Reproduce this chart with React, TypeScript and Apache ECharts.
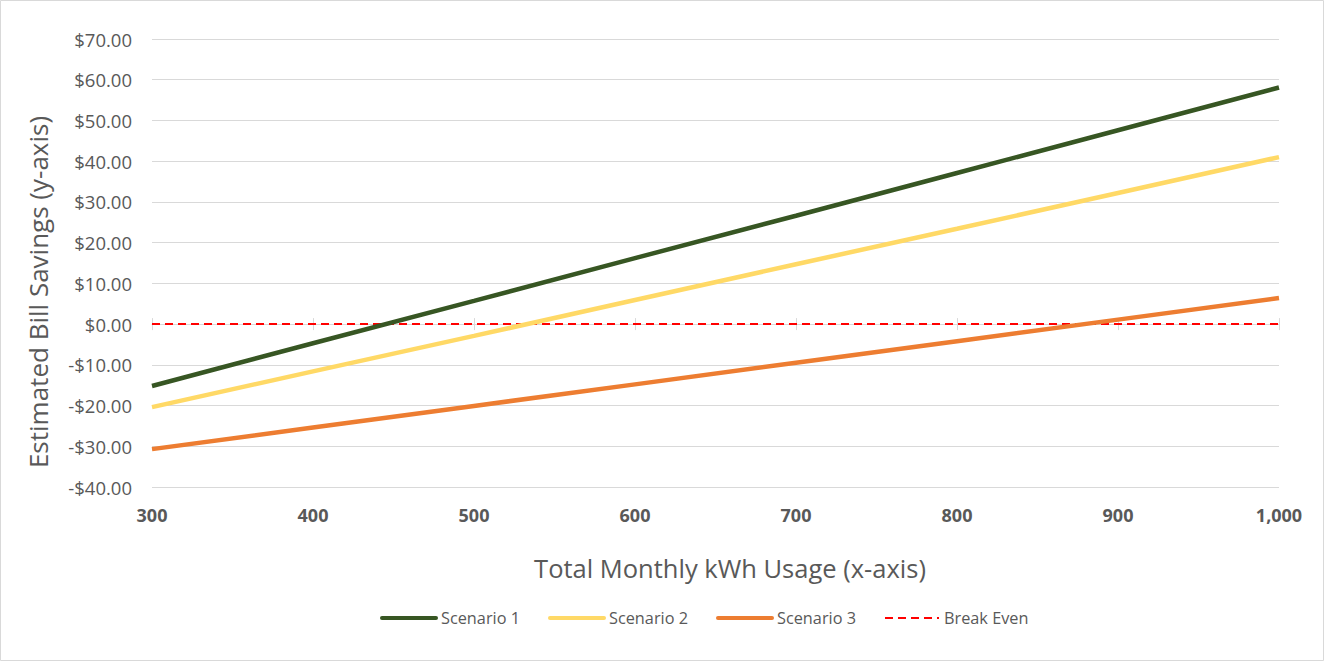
import React, { useEffect, useRef } from "react";
import * as echarts from "echarts";

const kwh = [300, 400, 500, 600, 700, 800, 900, 1000];
const scenario1 = [-15.2, -4.7, 5.7, 16.2, 26.6, 37.1, 47.6, 58.1];
const scenario2 = [-20.4, -11.6, -2.9, 5.9, 14.7, 23.4, 32.2, 41.0];
const scenario3 = [-30.7, -25.4, -20.1, -14.8, -9.5, -4.2, 1.1, 6.4];
const breakEven = [0, 0, 0, 0, 0, 0, 0, 0];
const seriesNames = ["Scenario 1", "Scenario 2", "Scenario 3", "Break Even"];
const xTitle = "Total Monthly kWh Usage (x-axis)";
const yTitle = "Estimated Bill Savings (y-axis)";

const FONT = "Open Sans";
const GREY = "#595959";

export default function App() {
  const ref = useRef<HTMLDivElement>(null);
  useEffect(() => {
    document.body.style.margin = "0";
    const chart = echarts.init(ref.current!, null, { renderer: "svg" });
    const pairs = (ys: number[]) => kwh.map((x, i) => [x, ys[i]]);
    const xBase = { type: "value", min: 300, max: 1000, interval: 100 };
    chart.setOption({
      animation: false,
      backgroundColor: "#ffffff",
      textStyle: { fontFamily: FONT },
      graphic: [
        {
          type: "rect",
          shape: { x: 0.5, y: 0.5, width: 1323, height: 660 },
          style: { fill: "none", stroke: "#d9d9d9", lineWidth: 1 },
          silent: true,
        },
        {
          type: "text",
          x: 730,
          y: 568,
          style: {
            text: xTitle,
            fill: GREY,
            fontSize: 25.5,
            fontFamily: FONT,
            textAlign: "center",
            textVerticalAlign: "middle",
          },
          silent: true,
        },
        {
          type: "text",
          x: 38,
          y: 292,
          rotation: Math.PI / 2,
          style: {
            text: yTitle,
            fill: GREY,
            fontSize: 26,
            fontFamily: FONT,
            textAlign: "center",
            textVerticalAlign: "middle",
          },
          silent: true,
        },
      ],
      grid: { left: 152, right: 45, top: 39, bottom: 174 },
      xAxis: [
        {
          ...xBase,
          position: "bottom",
          axisLine: { show: false, onZero: false },
          axisTick: { show: false },
          splitLine: { show: false },
          axisLabel: {
            color: GREY,
            fontSize: 18,
            fontWeight: "bold",
            fontFamily: FONT,
            margin: 19,
            formatter: (v: number) => v.toLocaleString("en-US"),
          },
        },
        {
          ...xBase,
          position: "bottom",
          axisLine: { show: true, onZero: true, onZeroAxisIndex: 0, lineStyle: { color: "#d9d9d9", width: 1 } },
          axisTick: { show: true, inside: false, length: 6, lineStyle: { color: "#d9d9d9" } },
          axisLabel: { show: false },
          splitLine: { show: false },
        },
        {
          ...xBase,
          position: "bottom",
          axisLine: { show: false, onZero: true, onZeroAxisIndex: 0 },
          axisTick: { show: true, inside: true, length: 6, lineStyle: { color: "#d9d9d9" } },
          axisLabel: { show: false },
          splitLine: { show: false },
        },
      ],
      yAxis: {
        type: "value",
        min: -40,
        max: 70,
        interval: 10,
        axisLine: { show: false },
        axisTick: { show: false },
        splitLine: { show: true, lineStyle: { color: "#d9d9d9", width: 1 } },
        axisLabel: {
          color: GREY,
          fontSize: 18.5,
          fontFamily: FONT,
          margin: 20,
          formatter: (v: number) => (v < 0 ? "-" : "") + "$" + Math.abs(v).toFixed(2),
        },
      },
      legend: {
        data: [
          { name: seriesNames[0], lineStyle: { width: 4, cap: "round" } },
          { name: seriesNames[1], lineStyle: { width: 4, cap: "round" } },
          { name: seriesNames[2], lineStyle: { width: 4, cap: "round" } },
          { name: seriesNames[3], lineStyle: { width: 2 } },
        ],
        left: 380,
        top: 610,
        padding: 0,
        itemWidth: 54,
        itemHeight: 20,
        itemGap: 28,
        itemStyle: { opacity: 0 },
        textStyle: { color: GREY, fontSize: 16.3, fontFamily: FONT },
      },
      series: [
        {
          name: seriesNames[3],
          type: "line",
          data: pairs(breakEven),
          symbol: "none",
          z: 2,
          lineStyle: { color: "#ff0000", width: 2, type: [8, 5] },
          itemStyle: { color: "#ff0000" },
        },
        {
          name: seriesNames[0],
          type: "line",
          data: pairs(scenario1),
          symbol: "none",
          z: 3,
          lineStyle: { color: "#375623", width: 4.5 },
          itemStyle: { color: "#375623" },
        },
        {
          name: seriesNames[1],
          type: "line",
          data: pairs(scenario2),
          symbol: "none",
          z: 3,
          lineStyle: { color: "#ffd966", width: 4.5 },
          itemStyle: { color: "#ffd966" },
        },
        {
          name: seriesNames[2],
          type: "line",
          data: pairs(scenario3),
          symbol: "none",
          z: 3,
          lineStyle: { color: "#ed7d31", width: 4.5 },
          itemStyle: { color: "#ed7d31" },
        },
      ],
    });
    return () => chart.dispose();
  }, []);
  return (
    <div
      ref={ref}
      style={{ position: "absolute", left: 0, top: 0, width: 1324, height: 661 }}
    />
  );
}
